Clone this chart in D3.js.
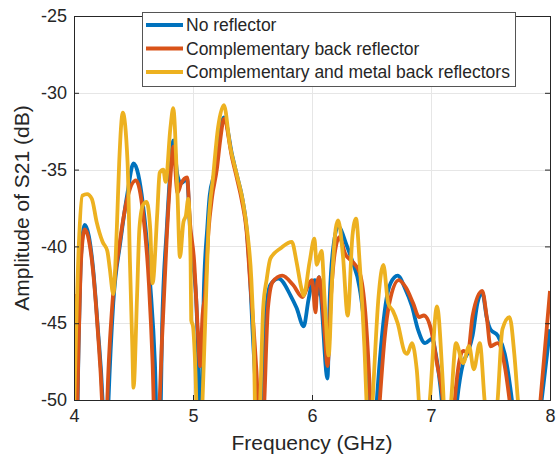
<!DOCTYPE html>
<html>
<head>
<meta charset="utf-8">
<script src="https://cdn.jsdelivr.net/npm/d3@7"></script>
<style>
  body { margin: 0; background: #fff; }
  svg text { font-family: "Liberation Sans", Arial, sans-serif; fill: #262626; }
</style>
</head>
<body>
<div id="chart"></div>
<script>
// series names
var seriesNames = ["No reflector", "Complementary back reflector", "Complementary and metal back reflectors"];

// No reflector (GHz, dB)
var freqNoRef = [4.00, 4.02, 4.04, 4.06, 4.09, 4.16, 4.20, 4.24, 4.265, 4.29, 4.33, 4.39, 4.45, 4.50, 4.58, 4.64, 4.68, 4.71, 4.73, 4.74, 4.78, 4.815, 4.834,
    4.87, 4.90, 4.95, 4.975, 5.00, 5.03, 5.045, 5.06, 5.075, 5.09, 5.12, 5.14, 5.18, 5.22, 5.26, 5.33, 5.37, 5.41, 5.45, 5.48, 5.50, 5.53, 5.555, 5.58,
    5.61, 5.65, 5.72, 5.82, 5.87, 5.93, 5.97, 6.00, 6.025, 6.04, 6.06, 6.08, 6.13, 6.15, 6.18, 6.22, 6.29, 6.34, 6.40, 6.44, 6.47, 6.50, 6.545,
    6.58, 6.62, 6.66, 6.72, 6.78, 6.84, 6.89, 6.95, 7.01, 7.04, 7.09, 7.15, 7.22, 7.27, 7.31, 7.35, 7.39, 7.43, 7.47, 7.50, 7.56, 7.62, 7.68, 7.80, 7.93, 8.00];
var ampNoRef = [-43.9, -53, -46, -40.5, -38.6, -41.4, -45.3, -50, -56, -50, -43.7, -39.7, -36.5, -34.6, -37.3, -42.4, -47.6, -55, -50, -45.4, -38.8, -34.5, -33.1,
    -35.4, -35.9, -35.6, -38.8, -41, -44, -48, -55, -50, -43.2, -38.8, -36.7, -35.2, -32.8, -31.6, -34.1, -35.4, -36.7, -38.8, -42.1, -45.4, -50, -56, -50,
    -44.5, -42.5, -42.1, -43.2, -44, -45.2, -43.5, -42.4, -42.2, -43.2, -42, -43.7, -48.6, -43.2, -40, -38.7, -39.9, -41, -42.7, -45.4, -50, -56, -50,
    -46.5, -43.7, -42.4, -41.9, -42.7, -43.9, -45.4, -46.3, -46, -47, -50, -57, -50, -47.6, -46.9, -45.8, -43.7, -43, -44.7, -45.4, -45.8, -47, -50, -60, -50, -45.4];

// Complementary back reflector
var freqComp = [4.00, 4.02, 4.04, 4.06, 4.09, 4.16, 4.20, 4.235, 4.26, 4.28, 4.32, 4.38, 4.45, 4.52, 4.58, 4.63, 4.66, 4.69, 4.72, 4.74, 4.78, 4.81, 4.834,
    4.87, 4.90, 4.95, 4.975, 5.01, 5.04, 5.06, 5.08, 5.10, 5.13, 5.16, 5.20, 5.23, 5.26, 5.33, 5.37, 5.41, 5.45, 5.48, 5.51, 5.545, 5.57, 5.60,
    5.63, 5.67, 5.75, 5.84, 5.92, 5.97, 6.00, 6.03, 6.045, 6.06, 6.09, 6.11, 6.13, 6.16, 6.19, 6.23, 6.28, 6.34, 6.40, 6.45, 6.49, 6.52, 6.57,
    6.61, 6.65, 6.73, 6.79, 6.85, 6.90, 6.94, 7.00, 7.05, 7.10, 7.15, 7.20, 7.24, 7.27, 7.31, 7.35, 7.43, 7.47, 7.50, 7.56, 7.62, 7.66, 7.79, 7.92, 8.00];
var ampComp = [-43.1, -52, -46, -40.8, -38.9, -41.6, -45.5, -50, -56, -50, -44, -40, -36.8, -35.7, -37.8, -42.5, -47.5, -55, -50, -46, -39.3, -35.5, -33.5,
    -36.5, -35.9, -35.5, -38.5, -41, -45.4, -47.8, -44.5, -43.2, -39, -36.8, -35, -33, -31.7, -34.3, -35.6, -37, -39, -42.3, -45.4, -50, -56, -50,
    -44, -42.3, -41.9, -42.5, -43.3, -42.5, -42.2, -44.3, -42.3, -42, -44, -46, -47.8, -43.2, -40.5, -39.4, -40.5, -41, -41.7, -44.5, -50, -56, -50,
    -46, -43.7, -42.2, -42.7, -43.7, -44.6, -44.5, -45.4, -47.6, -50, -56, -50, -47.4, -46.8, -46.9, -44.5, -42.9, -44.7, -46.5, -46.3, -47.8, -50, -60, -50, -42.9];

// Complementary and metal back reflectors
var freqMetal = [4.00, 4.04, 4.07, 4.11, 4.15, 4.19, 4.24, 4.28, 4.30, 4.33, 4.36, 4.38, 4.41, 4.45, 4.47, 4.49, 4.50, 4.53, 4.55, 4.58, 4.61, 4.64, 4.66,
    4.70, 4.72, 4.75, 4.77, 4.81, 4.834, 4.87, 4.89, 4.92, 4.94, 4.96, 4.98, 4.985, 5.00, 5.02, 5.05, 5.08, 5.11, 5.13, 5.17, 5.21, 5.26, 5.31, 5.37,
    5.42, 5.46, 5.49, 5.51, 5.535, 5.565, 5.59, 5.62, 5.65, 5.74, 5.83, 5.87, 5.91, 5.93, 5.98, 6.02, 6.04, 6.08, 6.11, 6.14, 6.17, 6.20, 6.22,
    6.26, 6.30, 6.34, 6.37, 6.40, 6.44, 6.47, 6.49, 6.51, 6.56, 6.60, 6.64, 6.68, 6.72, 6.78, 6.80, 6.84, 6.88, 6.92, 6.96, 6.99, 7.05, 7.10, 7.12,
    7.15, 7.17, 7.21, 7.27, 7.32, 7.36, 7.41, 7.45, 7.50, 7.56, 7.60, 7.66, 7.70, 7.73, 7.80, 8.00];
var ampMetal = [-51, -40, -36.7, -36.6, -36.9, -38.4, -39.7, -40.3, -41.4, -43.1, -38.8, -34.5, -31.3, -34.5, -41, -46.5, -49.2, -43.2, -38.8, -37.3, -37.1, -38.8, -42.4,
    -37.8, -35.2, -35, -35.8, -32.3, -31, -36.7, -40.7, -38.4, -38, -36.9, -41, -44.8, -45.2, -48, -56, -50, -43.2, -38.8, -35.4, -32.3, -30.8, -33.4, -35.4,
    -37.1, -39.3, -42.1, -46, -55, -50, -44, -42.1, -40.8, -40.1, -39.7, -41, -42.7, -43.2, -41, -39.5, -41.2, -40.3, -44, -47.1, -42, -38.8, -38.3,
    -40.6, -44.5, -39.3, -38.2, -41, -46.5, -52, -53, -50, -43.2, -41.2, -43.7, -44.2, -45, -46.9, -47, -46.3, -48, -52, -52, -50, -43.9, -49, -52,
    -52, -50, -46.3, -47.6, -46.5, -48, -46.3, -50, -54, -50, -45.4, -44.6, -47, -50, -56, -60];

// ticks
var xTicks = [4, 5, 6, 7, 8];
var yTicks = [-50, -45, -40, -35, -30, -25];

var colors = ["#0072BD", "#D95319", "#EDB120"];

var w = 560, h = 461;
var mLeft = 74, mRight = 550, mTop = 16, mBottom = 400;

var xScale = d3.scaleLinear().domain([4, 8]).range([mLeft, mRight]);
var yScale = d3.scaleLinear().domain([-50, -25]).range([mBottom, mTop]);

var svg = d3.select("#chart").append("svg")
    .attr("width", w)
    .attr("height", h);

svg.append("defs").append("clipPath")
    .attr("id", "plotclip")
    .append("rect")
    .attr("x", mLeft).attr("y", mTop)
    .attr("width", mRight - mLeft).attr("height", mBottom - mTop);

// grid
svg.append("g")
    .selectAll("line")
    .data(xTicks.slice(1, -1))
    .enter().append("line")
    .attr("x1", (d) => Math.round(xScale(d)) + 0.5).attr("x2", (d) => Math.round(xScale(d)) + 0.5)
    .attr("y1", mTop).attr("y2", mBottom)
    .attr("stroke", "#e6e6e6").attr("stroke-width", 1);

svg.append("g")
    .selectAll("line")
    .data(yTicks.slice(1, -1))
    .enter().append("line")
    .attr("y1", (d) => Math.round(yScale(d)) + 0.5).attr("y2", (d) => Math.round(yScale(d)) + 0.5)
    .attr("x1", mLeft).attr("x2", mRight)
    .attr("stroke", "#e6e6e6").attr("stroke-width", 1);

// lines
var series = [
    { f: freqNoRef, a: ampNoRef },
    { f: freqComp, a: ampComp },
    { f: freqMetal, a: ampMetal }
];

var line = d3.line()
    .x((d) => xScale(d[0]))
    .y((d) => yScale(d[1]))
    .curve(d3.curveMonotoneX);

var plot = svg.append("g").attr("clip-path", "url(#plotclip)");
series.forEach((s, i) => {
    plot.append("path")
        .datum(s.f.map((f, k) => [f, s.a[k]]))
        .attr("fill", "none")
        .attr("stroke", colors[i])
        .attr("stroke-width", 3.8)
        .attr("stroke-linejoin", "round")
        .attr("d", line);
});

// axes
var plainFmt = (d) => String(d);
var xAxis = d3.axisBottom(xScale).tickValues(xTicks).tickSize(-5).tickPadding(9).tickFormat(plainFmt);
var yAxis = d3.axisLeft(yScale).tickValues(yTicks).tickSize(-5).tickPadding(7).tickFormat(plainFmt);
var xTop = d3.axisTop(xScale).tickValues(xTicks).tickSize(-5).tickFormat("");
var yRight = d3.axisRight(yScale).tickValues(yTicks).tickSize(-5).tickFormat("");

var gx = svg.append("g").attr("transform", `translate(0, ${mBottom})`).call(xAxis);
var gy = svg.append("g").attr("transform", `translate(${mLeft}, 0)`).call(yAxis);
var gt = svg.append("g").attr("transform", `translate(0, ${mTop})`).call(xTop);
var gr = svg.append("g").attr("transform", `translate(${mRight}, 0)`).call(yRight);

[gx, gy, gt, gr].forEach((g) => {
    g.select(".domain").attr("stroke", "#262626");
    g.selectAll(".tick line").attr("stroke", "#262626");
    g.selectAll(".tick text")
        .style("font-family", "'Liberation Sans', Arial, sans-serif")
        .style("font-size", "18px")
        .attr("fill", "#262626");
});

// axis labels
svg.append("text")
    .attr("x", (mLeft + mRight) / 2)
    .attr("y", 450)
    .attr("text-anchor", "middle")
    .style("font-size", "21px")
    .text("Frequency (GHz)");

svg.append("text")
    .attr("transform", `translate(29, ${(mTop + mBottom) / 2}) rotate(-90)`)
    .attr("text-anchor", "middle")
    .style("font-size", "21px")
    .text("Amplitude of S21 (dB)");

// legend
var lg = svg.append("g");
lg.append("rect")
    .attr("x", 142.5).attr("y", 12.5)
    .attr("width", 373).attr("height", 74)
    .attr("fill", "#fff")
    .attr("stroke", "#555").attr("stroke-width", 1);

seriesNames.forEach((name, i) => {
    var yy = 25 + i * 23.5;
    lg.append("line")
        .attr("x1", 146).attr("x2", 183)
        .attr("y1", yy).attr("y2", yy)
        .attr("stroke", colors[i]).attr("stroke-width", 3.8);
    lg.append("text")
        .attr("x", 186).attr("y", yy + 6)
        .style("font-size", "17.5px")
        .attr("fill", "#000")
        .text(name);
});
</script>
</body>
</html>
